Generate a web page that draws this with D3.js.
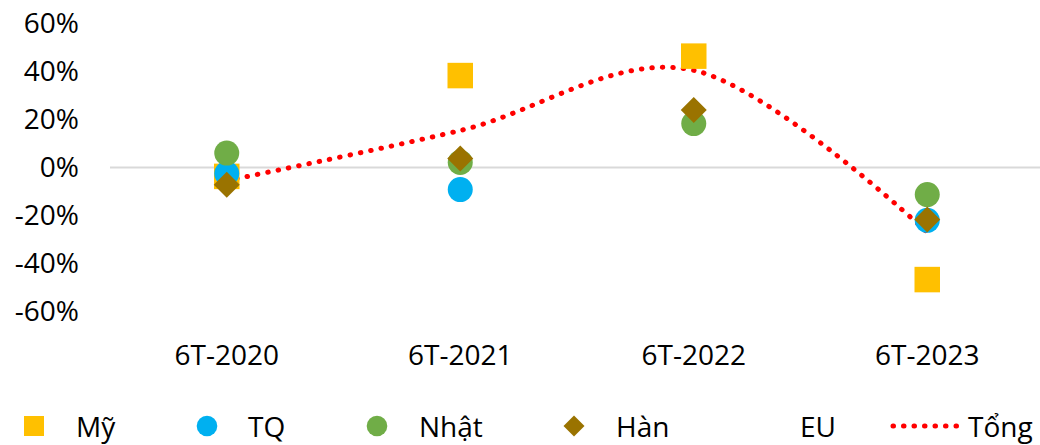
<!DOCTYPE html>
<html>
<head>
<meta charset="utf-8">
<script src="https://cdn.jsdelivr.net/npm/d3@7"></script>
<style>
  html, body { margin: 0; padding: 0; background: #fff; }
  svg { display: block; font-family: "Open Sans", "Noto Sans", sans-serif; }
  text { fill: #000; }
</style>
</head>
<body>
<svg id="chart" width="1040" height="445"></svg>
<script>
// Growth by market, first six months of each year (%)
const categories = ["6T-2020", "6T-2021", "6T-2022", "6T-2023"];
const my    = [-3.7, 38.3, 46.4, -46.7];   // Mỹ
const tq    = [-2.5, -9.2, null, -22.0];   // TQ
const nhat  = [6.0, 2.1, 18.3, -11.3];     // Nhật
const han   = [-7.2, 3.8, 24.0, -21.7];    // Hàn
const eu    = [null, null, null, null];    // EU
const tong  = [-5.5, 15.4, 40.5, -27.0];   // Tổng
const yTicks = [-60, -40, -20, 0, 20, 40, 60];
const seriesNames = ["Mỹ", "TQ", "Nhật", "Hàn", "EU", "Tổng"];

const svg = d3.select("#chart");

const x = d3.scaleBand().domain(categories).range([110, 1044]).padding(0);
const y = d3.scaleLinear().domain([-60, 60]).range([311.5, 23.5]);
const cx = c => x(c) + x.bandwidth() / 2;

// y axis labels only
const yAxis = d3.axisLeft(y).tickValues(yTicks).tickSize(0).tickPadding(31)
  .tickFormat(d => d + "%");
svg.append("g").attr("transform", "translate(110,0)").call(yAxis)
  .call(g => g.select(".domain").remove())
  .selectAll("text").attr("font-size", 28).attr("font-family", "Open Sans").attr("fill", "#000");

// category labels
const xAxis = d3.axisBottom(x).tickSize(0).tickPadding(0);
svg.append("g").attr("transform", "translate(0,345)").call(xAxis)
  .call(g => g.select(".domain").remove())
  .selectAll("text").attr("font-size", 28).attr("font-family", "Open Sans").attr("fill", "#000");

// zero line
svg.append("line")
  .attr("x1", 110).attr("x2", 1040)
  .attr("y1", y(0)).attr("y2", y(0))
  .attr("stroke", "#d9d9d9").attr("stroke-width", 2);

const colors = { my: "#FFC000", tq: "#00B0F0", nhat: "#70AD47", han: "#9A7300", tong: "#FF0000" };

// total: smoothed dotted line, drawn beneath markers
const line = d3.line()
  .x((d, i) => cx(categories[i]))
  .y(d => y(d))
  .curve(d3.curveCardinal.tension(0));
svg.append("path")
  .datum(tong)
  .attr("d", line)
  .attr("fill", "none")
  .attr("stroke", colors.tong)
  .attr("stroke-width", 5)
  .attr("stroke-linecap", "round")
  .attr("stroke-dasharray", "0.5 10");

const pts = arr => arr.map((v, i) => ({ c: categories[i], v })).filter(d => d.v != null);

// Mỹ squares
const sq = 25.5;
svg.append("g").selectAll("rect").data(pts(my)).join("rect")
  .attr("x", d => cx(d.c) - sq / 2).attr("y", d => y(d.v) - sq / 2)
  .attr("width", sq).attr("height", sq)
  .attr("fill", colors.my);

// TQ circles
svg.append("g").selectAll("circle").data(pts(tq)).join("circle")
  .attr("cx", d => cx(d.c)).attr("cy", d => y(d.v)).attr("r", 12.5)
  .attr("fill", colors.tq);

// Nhật circles
svg.append("g").selectAll("circle").data(pts(nhat)).join("circle")
  .attr("cx", d => cx(d.c)).attr("cy", d => y(d.v)).attr("r", 12.5)
  .attr("fill", colors.nhat);

// Hàn diamonds
const dh = 13;
svg.append("g").selectAll("path").data(pts(han)).join("path")
  .attr("d", d => {
    const px = cx(d.c), py = y(d.v);
    return `M${px},${py - dh}L${px + dh},${py}L${px},${py + dh}L${px - dh},${py}Z`;
  })
  .attr("fill", colors.han);

// legend
const legendX = [34, 207, 377, 574, 744, 893];
const legendTextX = [76, 248, 419, 616, 800, 968];
const ly = 426;
const lg = svg.append("g");
seriesNames.forEach((name, i) => {
  const mx = legendX[i];
  if (i === 0) {
    lg.append("rect").attr("x", mx - 10).attr("y", ly - 10).attr("width", 20).attr("height", 20).attr("fill", colors.my);
  } else if (i === 1) {
    lg.append("circle").attr("cx", mx).attr("cy", ly).attr("r", 10.3).attr("fill", colors.tq);
  } else if (i === 2) {
    lg.append("circle").attr("cx", mx).attr("cy", ly).attr("r", 10.3).attr("fill", colors.nhat);
  } else if (i === 3) {
    lg.append("path").attr("d", `M${mx},${ly - 10.5}L${mx + 10.5},${ly}L${mx},${ly + 10.5}L${mx - 10.5},${ly}Z`).attr("fill", colors.han);
  } else if (i === 5) {
    lg.append("line").attr("x1", mx).attr("x2", mx + 70).attr("y1", ly).attr("y2", ly)
      .attr("stroke", colors.tong).attr("stroke-width", 5).attr("stroke-linecap", "round")
      .attr("stroke-dasharray", "0.5 10");
  }
  lg.append("text").attr("x", legendTextX[i]).attr("y", 437)
    .attr("font-size", 28).text(name);
});
</script>
</body>
</html>
